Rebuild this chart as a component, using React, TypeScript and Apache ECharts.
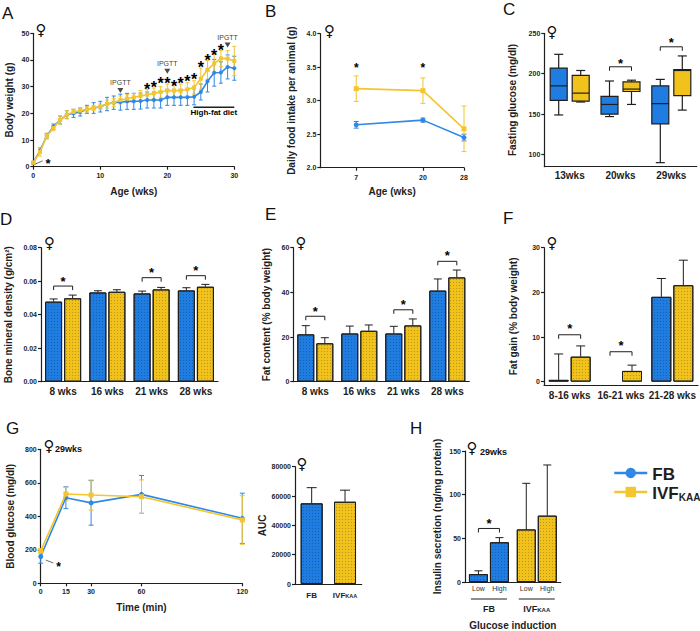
import React, { useEffect, useRef } from 'react';
import * as echarts from 'echarts';

const FONT = '"Liberation Sans", Arial, Helvetica, sans-serif';
const DARK = '#1e1e1e';
const BLUE = '#1f7de2';
const YELLOW = '#f1c21b';
const LINE_BLUE = '#2f88e6';
const LINE_YELLOW = '#f3c52f';

// ---------- Panel A: body weight ----------
const weeksA = [0, 1, 2, 3, 4, 5, 6, 7, 8, 9, 10, 11, 12, 13, 14, 15, 16, 17, 18, 19, 20, 21, 22, 23, 24, 25, 26, 27, 28, 29, 30];
const fbWeight = [1.5, 6, 11.5, 15, 17.5, 19.5, 20, 20.5, 21.5, 22, 22.5, 23.5, 24, 24.2, 24.5, 24.5, 24.6, 25, 25, 25, 26, 26, 26, 26, 26.2, 28, 32, 35.2, 35.3, 37.4, 36.9];
const fbWeightErr = [0.5, 1, 1, 1, 1.5, 1.5, 1.5, 1.5, 1.5, 2, 2, 2.5, 2.5, 3, 3, 3, 3, 3, 3, 3, 3, 3, 3, 3, 3, 3, 4, 5, 4, 4.5, 4.5];
const ivfWeight = [1.5, 5.5, 11.5, 14.5, 17.5, 19.5, 20.5, 21, 21.5, 22, 22.5, 23.5, 24, 25, 25.5, 26, 26.5, 27, 27.5, 28, 28.5, 28.5, 28.5, 29, 29.7, 33, 36.3, 38.7, 40.6, 40.5, 39.6];
const ivfWeightErr = [0.5, 1.5, 1, 1, 1.5, 1.5, 1, 1, 1, 1, 1, 1.5, 1.5, 1.5, 1.5, 1.5, 2, 2, 2, 2, 2.5, 2.5, 2.5, 2.5, 2.5, 4, 3.5, 3.5, 3, 3, 5.5];
const starWeeksA = [17, 18, 19, 20, 21, 22, 23, 24, 25, 26, 27, 28];
const starLevelsA = [30.2, 31.2, 32.5, 32.5, 31.6, 32.5, 33.5, 34, 38.7, 41, 43, 45];
const ipgttWeeks = [13, 20, 29];
const ipgttArrowLevels = [28.6, 35.8, 45.6];
const hfdRange = [23.9, 30];
const hfdLevel = 22.3;
const earlyStarA = [[0.3, 1.0], [1.4, 2.2], [1.9, 2.5]];

// ---------- Panel B: food intake ----------
const weeksB = [7, 20, 28];
const fbIntake = [2.64, 2.71, 2.45];
const fbIntakeErr = [0.05, 0.03, 0.05];
const ivfIntake = [3.18, 3.15, 2.58];
const ivfIntakeErr = [0.19, 0.19, 0.34];
const starWeeksB = [7, 20];
const starLevelsB = [3.53, 3.53];

// ---------- Panel C: fasting glucose (min, Q1, median, Q3, max) ----------
const ageCatsC = ['13wks', '20wks', '29wks'];
const fbFasting = [[149, 167, 185, 207, 224], [147, 150, 162, 172, 191], [90, 138, 163, 185, 193]];
const ivfFasting = [[165, 166, 176, 198, 204], [162, 178, 181, 190, 192], [155, 173, 204, 205, 222]];
const bracketCatsC = [1, 2];
const bracketLevelsC = [208.6, 233.3];
const starLevelsC = [216.9, 242.4];

// ---------- Panel D: bone mineral density ----------
const ageCatsD = ['8 wks', '16 wks', '21 wks', '28 wks'];
const fbBMD = [0.0478, 0.0533, 0.0527, 0.0545];
const fbBMDErr = [0.0016, 0.001, 0.0014, 0.0016];
const ivfBMD = [0.0498, 0.0537, 0.0551, 0.0567];
const ivfBMDErr = [0.0019, 0.0012, 0.0012, 0.0014];
const bracketCatsD = [0, 2, 3];
const bracketLevelsD = [0.0571, 0.0621, 0.0633];
const starLevelsD = [0.0617, 0.0667, 0.068];

// ---------- Panel E: fat content ----------
const ageCatsE = ['8 wks', '16 wks', '21 wks', '28 wks'];
const fbFat = [21.2, 21.6, 21.6, 40.8];
const fbFatErr = [3.9, 3.3, 3.2, 5.2];
const ivfFat = [17.2, 22.8, 25.2, 46.7];
const ivfFatErr = [2.5, 2.6, 2.9, 3.3];
const bracketCatsE = [0, 2, 3];
const bracketLevelsE = [29.3, 32.2, 53.9];
const starLevelsE = [32.8, 35.8, 57.8];

// ---------- Panel F: fat gain ----------
const periodCatsF = ['8-16 wks', '16-21 wks', '21-28 wks'];
const fbGain = [0.4, null, 19.0];
const fbGainErr = [5.8, null, 4.1];
const ivfGain = [5.6, 2.4, 21.6];
const ivfGainErr = [2.4, 1.3, 5.6];
const bracketCatsF = [0, 1];
const bracketLevelsF = [10.5, 6.7];
const starLevelsF = [12.5, 8.7];

// ---------- Panel G: IPGTT ----------
const timesG = [0, 15, 30, 60, 120];
const fbGlucose = [160, 511, 480, 531, 388];
const fbGlucoseErr = [40, 65, 133, 113, 150];
const ivfGlucose = [193, 533, 527, 517, 378];
const ivfGlucoseErr = [15, 40, 90, 100, 145];
const earlyStarG = [[3, 139], [7.5, 121], [9.5, 114]];

// ---------- AUC ----------
const groupsAUC = ['FB', 'IVF_KAA'];
const aucValues = [55000, 56100];
const aucErr = [10700, 7900];

// ---------- Panel H: insulin secretion ----------
const groupsH = ['FB', 'IVF_KAA'];
const lowInsulin = [9.0, 60.2];
const lowInsulinErr = [3.8, 52.8];
const highInsulin = [45.5, 76];
const highInsulinErr = [5.3, 58];
const bracketCatsH = [0];
const bracketLevelsH = [61.3];
const starLevelsH = [70.3];

const AX = { color: DARK, width: 1.2 };
const DECAL = { symbol: 'rect', symbolSize: 1, dashArrayX: [1, 2], dashArrayY: [1, 2], color: 'rgba(0,0,0,0.22)' };

const nameStyle = (size = 10) => ({ color: DARK, fontSize: size, fontWeight: 'bold', fontFamily: FONT });

function valAxis(gi: number, min: number, max: number, o: any = {}) {
  const lbl: any = { color: DARK, fontSize: 7, fontWeight: 'bold', fontFamily: FONT, margin: o.margin ?? 4 };
  const tick: any = { show: true, length: 3, lineStyle: AX };
  if (o.ticks) { lbl.customValues = o.ticks; tick.customValues = o.ticks; }
  if (o.fmt) lbl.formatter = o.fmt;
  return {
    type: 'value', gridIndex: gi, min, max, interval: o.interval,
    axisLine: { show: true, onZero: false, lineStyle: AX },
    axisTick: tick, axisLabel: lbl, splitLine: { show: false },
    name: o.name, nameLocation: 'middle', nameGap: o.gap, nameRotate: o.rotate, nameTextStyle: nameStyle(o.nameSize),
  };
}

const richSub = (big: number, small: number) => ({
  b: { fontSize: big, fontWeight: 'bold', fontFamily: FONT, color: DARK, lineHeight: big + 3, verticalAlign: 'bottom' },
  s: { fontSize: small, fontWeight: 'bold', fontFamily: FONT, color: DARK, lineHeight: small, verticalAlign: 'bottom' },
});
const subFmt = (v: string) => (v === 'IVF_KAA' ? '{b|IVF}{s|KAA}' : '{b|' + v + '}');

function catAxis(gi: number, data: string[], o: any = {}) {
  const lbl: any = { color: DARK, fontSize: o.size ?? 10, fontWeight: 'bold', fontFamily: FONT, margin: o.margin ?? 5, interval: 0 };
  if (o.rich) { lbl.formatter = subFmt; lbl.rich = o.rich; }
  return {
    type: 'category', gridIndex: gi, data,
    axisLine: { show: true, onZero: false, lineStyle: AX },
    axisTick: { show: false }, axisLabel: lbl, splitLine: { show: false },
    name: o.name, nameLocation: 'middle', nameGap: o.gap, nameTextStyle: nameStyle(o.nameSize),
  };
}

function starEl(x: number, y: number, size = 13) {
  return { type: 'text', x, y: y + size * 0.23, style: { text: '*', fill: '#000', fontSize: size, fontWeight: 'bold', fontFamily: FONT, align: 'center', verticalAlign: 'middle' } };
}
const lineEl = (x1: number, y1: number, x2: number, y2: number, color = DARK, w = 1) => ({ type: 'line', shape: { x1, y1, x2, y2 }, style: { stroke: color, lineWidth: w } });

function errSeries(gi: number, xs: any[], ms: any[], es: any[], color: string, o: any = {}) {
  const data: any[] = [];
  xs.forEach((x, i) => { if (ms[i] != null && es[i] != null) data.push([x, ms[i], es[i]]); });
  return {
    type: 'custom', xAxisIndex: gi, yAxisIndex: gi, silent: true, z: o.z ?? 3, data,
    renderItem: (_p: any, api: any) => {
      const x = api.value(0), m = api.value(1), e = api.value(2);
      const top = api.coord([x, m + e]);
      const base = api.coord([x, o.up ? m : m - e]);
      const cx = top[0] + (o.dx ?? 0);
      const c = o.cap ?? 4;
      const w = o.width ?? 1;
      const kids: any[] = [lineEl(cx, top[1], cx, base[1], color, w), lineEl(cx - c / 2, top[1], cx + c / 2, top[1], color, w)];
      if (!o.up) kids.push(lineEl(cx - c / 2, base[1], cx + c / 2, base[1], color, w));
      return { type: 'group', children: kids };
    },
  };
}

function bracketSeries(gi: number, cats: number[], levels: number[], stars: number[], half: number, drop = 4) {
  return {
    type: 'custom', xAxisIndex: gi, yAxisIndex: gi, silent: true, z: 6,
    data: cats.map((c, i) => [c, levels[i], stars[i]]),
    renderItem: (_p: any, api: any) => {
      const a = api.coord([api.value(0), api.value(1)]);
      const s = api.coord([api.value(0), api.value(2)]);
      const x1 = a[0] - half, x2 = a[0] + half;
      return {
        type: 'group', children: [
          { type: 'polyline', shape: { points: [[x1, a[1] + drop], [x1, a[1]], [x2, a[1]], [x2, a[1] + drop]] }, style: { stroke: DARK, lineWidth: 1, fill: 'none' } },
          starEl(s[0], s[1]),
        ],
      };
    },
  };
}

function starSeries(gi: number, xs: number[], ys: number[], size = 13) {
  return {
    type: 'custom', xAxisIndex: gi, yAxisIndex: gi, silent: true, z: 6,
    data: xs.map((x, i) => [x, ys[i]]),
    renderItem: (_p: any, api: any) => {
      const p = api.coord([api.value(0), api.value(1)]);
      return starEl(p[0], p[1], size);
    },
  };
}

function leaderStarSeries(gi: number, pts: number[][], size = 12) {
  return {
    type: 'custom', xAxisIndex: gi, yAxisIndex: gi, silent: true, z: 6,
    data: [[pts[0][0], pts[0][1], pts[1][0], pts[1][1], pts[2][0], pts[2][1]]],
    renderItem: (_p: any, api: any) => {
      const a = api.coord([api.value(0), api.value(1)]);
      const b = api.coord([api.value(2), api.value(3)]);
      const s = api.coord([api.value(4), api.value(5)]);
      return { type: 'group', children: [lineEl(a[0], a[1], b[0], b[1], '#444', 0.8), starEl(s[0] + 2, s[1], size)] };
    },
  };
}

function boxSeries(gi: number, data: number[][], dx: number, w: number, color: string) {
  return {
    type: 'custom', xAxisIndex: gi, yAxisIndex: gi, silent: true, z: 3,
    data: data.map((d, i) => [i, ...d]),
    renderItem: (_p: any, api: any) => {
      const cat = api.value(0);
      const y = (k: number) => api.coord([cat, api.value(k)])[1];
      const x = api.coord([cat, api.value(1)])[0] + dx;
      const yMin = y(1), yQ1 = y(2), yMed = y(3), yQ3 = y(4), yMax = y(5);
      const cap = 9;
      return {
        type: 'group', children: [
          lineEl(x, yMax, x, yQ3, DARK, 1.2), lineEl(x, yQ1, x, yMin, DARK, 1.2),
          lineEl(x - cap / 2, yMax, x + cap / 2, yMax, DARK, 1.2), lineEl(x - cap / 2, yMin, x + cap / 2, yMin, DARK, 1.2),
          { type: 'rect', shape: { x: x - w / 2, y: yQ3, width: w, height: yQ1 - yQ3 }, style: { fill: color, stroke: DARK, lineWidth: 1.2 } },
          lineEl(x - w / 2, yMed, x + w / 2, yMed, DARK, 1.2),
        ],
      };
    },
  };
}

function buildOption(): any {
  const pairs = (xs: number[], ys: number[]) => xs.map((x, i) => [x, ys[i]]);
  const barStyle = (color: string) => ({ color, borderColor: DARK, borderWidth: 1, decal: DECAL });

  const grid = [
    { left: 33.3, top: 33.3, width: 201, height: 133.4 },
    { left: 320.3, top: 33.7, width: 143.7, height: 134 },
    { left: 544.3, top: 33.3, width: 152.4, height: 133.4 },
    { left: 41, top: 247.7, width: 177, height: 134 },
    { left: 293.3, top: 247.7, width: 176, height: 134 },
    { left: 544, top: 247.7, width: 154, height: 137.3 },
    { left: 40.7, top: 449.3, width: 201.6, height: 134 },
    { left: 295, top: 466.7, width: 66.7, height: 117.3 },
    { left: 465, top: 451, width: 95.7, height: 133 },
  ];

  const xAxis = [
    valAxis(0, 0, 30, { interval: 10, name: 'Age (wks)', gap: 20, margin: 5 }),
    valAxis(1, 0, 28, { ticks: weeksB, name: 'Age (wks)', gap: 19, margin: 6 }),
    catAxis(2, ageCatsC, { margin: 4 }),
    catAxis(3, ageCatsD, { margin: 5 }),
    catAxis(4, ageCatsE, { margin: 5 }),
    catAxis(5, periodCatsF, { margin: 5 }),
    valAxis(6, 0, 120, { ticks: timesG, name: 'Time (min)', gap: 19, margin: 5 }),
    catAxis(7, groupsAUC, { margin: 4, size: 8, rich: richSub(8, 5.5) }),
    catAxis(8, groupsH, { margin: 19, size: 9, rich: richSub(9, 6), name: 'Glucose induction', gap: 38 }),
  ];

  const yAxis = [
    valAxis(0, 0, 50, { interval: 10, name: 'Body weight (g)', gap: 19, rotate: 90 }),
    valAxis(1, 2, 4, { interval: 0.5, fmt: (v: number) => v.toFixed(1), name: 'Daily food intake per animal (g)', gap: 23.5, rotate: 90, nameSize: 10 }),
    valAxis(2, 85, 250, { ticks: [100, 150, 200, 250], name: 'Fasting glucose (mg/dl)', gap: 26.5, rotate: 90 }),
    valAxis(3, 0, 0.08, { interval: 0.02, fmt: (v: number) => v.toFixed(2), name: 'Bone mineral density (g/cm²)', gap: 27.7, rotate: 90 }),
    valAxis(4, 0, 60, { interval: 20, name: 'Fat content (% body weight)', gap: 21.6, rotate: 90 }),
    valAxis(5, -0.75, 30, { ticks: [0, 10, 20, 30], name: 'Fat gain (% body weight)', gap: 25.7, rotate: 90 }),
    valAxis(6, 0, 800, { interval: 200, name: 'Blood glucose (mg/dl)', gap: 25.7, rotate: 90 }),
    valAxis(7, 0, 80000, { interval: 20000, fmt: (v: number) => String(v), name: 'AUC', gap: 25, rotate: 90 }),
    valAxis(8, 0, 150, { interval: 50, name: 'Insulin secretion (ng/mg protein)', gap: 23, rotate: 90, nameSize: 10 }),
  ];

  const series: any[] = [
    // A
    errSeries(0, weeksA, fbWeight, fbWeightErr, LINE_BLUE, { cap: 4, z: 2 }),
    errSeries(0, weeksA, ivfWeight, ivfWeightErr, LINE_YELLOW, { cap: 4, z: 2 }),
    { type: 'line', name: 'FB', xAxisIndex: 0, yAxisIndex: 0, data: pairs(weeksA, fbWeight), symbol: 'circle', symbolSize: 4, color: LINE_BLUE, lineStyle: { width: 1.6 }, z: 4 },
    { type: 'line', name: 'IVF_KAA', xAxisIndex: 0, yAxisIndex: 0, data: pairs(weeksA, ivfWeight), symbol: 'rect', symbolSize: 4, color: LINE_YELLOW, lineStyle: { width: 1.6 }, z: 5 },
    starSeries(0, starWeeksA, starLevelsA, 16),
    leaderStarSeries(0, earlyStarA, 13),
    {
      type: 'scatter', name: 'IPGTT', xAxisIndex: 0, yAxisIndex: 0, silent: true, z: 6,
      data: pairs(ipgttWeeks, ipgttArrowLevels),
      symbol: 'triangle', symbolRotate: 180, symbolSize: [6, 5], itemStyle: { color: DARK },
      label: { show: true, position: 'top', distance: 2, formatter: 'IPGTT', color: '#000', fontSize: 7, fontFamily: FONT },
    },
    {
      type: 'custom', xAxisIndex: 0, yAxisIndex: 0, silent: true, z: 6,
      data: [[hfdRange[0], hfdLevel, hfdRange[1]]],
      renderItem: (_p: any, api: any) => {
        const a = api.coord([api.value(0), api.value(1)]);
        const b = api.coord([api.value(2), api.value(1)]);
        return {
          type: 'group', children: [
            lineEl(a[0], a[1], b[0], b[1], DARK, 1.5),
            { type: 'text', x: (a[0] + b[0]) / 2, y: a[1] + 5, style: { text: 'High-fat diet', fill: '#000', fontSize: 8, fontWeight: 'bold', fontFamily: FONT, align: 'center', verticalAlign: 'middle' } },
          ],
        };
      },
    },
    // B
    errSeries(1, weeksB, fbIntake, fbIntakeErr, LINE_BLUE, { cap: 5, z: 2 }),
    errSeries(1, weeksB, ivfIntake, ivfIntakeErr, LINE_YELLOW, { cap: 5, z: 2 }),
    { type: 'line', name: 'FB-B', xAxisIndex: 1, yAxisIndex: 1, data: pairs(weeksB, fbIntake), symbol: 'circle', symbolSize: 5, color: LINE_BLUE, lineStyle: { width: 1.6 } },
    { type: 'line', name: 'IVF-B', xAxisIndex: 1, yAxisIndex: 1, data: pairs(weeksB, ivfIntake), symbol: 'rect', symbolSize: 5, color: LINE_YELLOW, lineStyle: { width: 1.6 } },
    starSeries(1, starWeeksB, starLevelsB, 12),
    // C
    boxSeries(2, fbFasting, -11, 17, BLUE),
    boxSeries(2, ivfFasting, 11, 17, YELLOW),
    bracketSeries(2, bracketCatsC, bracketLevelsC, starLevelsC, 11),
    // D
    { type: 'bar', name: 'FB-D', xAxisIndex: 3, yAxisIndex: 3, data: fbBMD, barWidth: 17, barGap: '12%', itemStyle: barStyle(BLUE) },
    { type: 'bar', name: 'IVF-D', xAxisIndex: 3, yAxisIndex: 3, data: ivfBMD, barWidth: 17, barGap: '12%', itemStyle: barStyle(YELLOW) },
    errSeries(3, [0, 1, 2, 3], fbBMD, fbBMDErr, DARK, { up: true, dx: -9.5, cap: 8, z: 1 }),
    errSeries(3, [0, 1, 2, 3], ivfBMD, ivfBMDErr, DARK, { up: true, dx: 9.5, cap: 8, z: 1 }),
    bracketSeries(3, bracketCatsD, bracketLevelsD, starLevelsD, 9.5),
    // E
    { type: 'bar', name: 'FB-E', xAxisIndex: 4, yAxisIndex: 4, data: fbFat, barWidth: 17, barGap: '12%', itemStyle: barStyle(BLUE) },
    { type: 'bar', name: 'IVF-E', xAxisIndex: 4, yAxisIndex: 4, data: ivfFat, barWidth: 17, barGap: '12%', itemStyle: barStyle(YELLOW) },
    errSeries(4, [0, 1, 2, 3], fbFat, fbFatErr, DARK, { up: true, dx: -9.5, cap: 8, z: 1 }),
    errSeries(4, [0, 1, 2, 3], ivfFat, ivfFatErr, DARK, { up: true, dx: 9.5, cap: 8, z: 1 }),
    bracketSeries(4, bracketCatsE, bracketLevelsE, starLevelsE, 9.5),
    // F
    { type: 'bar', name: 'FB-F', xAxisIndex: 5, yAxisIndex: 5, data: fbGain, barWidth: 20, barGap: '10%', itemStyle: barStyle(BLUE) },
    { type: 'bar', name: 'IVF-F', xAxisIndex: 5, yAxisIndex: 5, data: ivfGain, barWidth: 20, barGap: '10%', itemStyle: barStyle(YELLOW) },
    errSeries(5, [0, 1, 2], fbGain, fbGainErr, DARK, { up: true, dx: -11, cap: 9, z: 1 }),
    errSeries(5, [0, 1, 2], ivfGain, ivfGainErr, DARK, { up: true, dx: 11, cap: 9, z: 1 }),
    bracketSeries(5, bracketCatsF, bracketLevelsF, starLevelsF, 11),
    // G
    errSeries(6, timesG, fbGlucose, fbGlucoseErr, LINE_BLUE, { cap: 5, z: 2 }),
    errSeries(6, timesG, ivfGlucose, ivfGlucoseErr, LINE_YELLOW, { cap: 5, z: 2 }),
    { type: 'line', name: 'FB-G', xAxisIndex: 6, yAxisIndex: 6, data: pairs(timesG, fbGlucose), symbol: 'circle', symbolSize: 5, color: LINE_BLUE, lineStyle: { width: 1.6 }, z: 4 },
    { type: 'line', name: 'IVF-G', xAxisIndex: 6, yAxisIndex: 6, data: pairs(timesG, ivfGlucose), symbol: 'rect', symbolSize: 5, color: LINE_YELLOW, lineStyle: { width: 1.6 }, z: 5 },
    leaderStarSeries(6, earlyStarG, 12),
    // AUC
    {
      type: 'bar', name: 'AUC', xAxisIndex: 7, yAxisIndex: 7, barWidth: 22,
      data: aucValues.map((v, i) => ({ value: v, itemStyle: barStyle(i === 0 ? BLUE : YELLOW) })),
    },
    errSeries(7, [0, 1], aucValues, aucErr, DARK, { up: true, cap: 10, z: 1 }),
    // H
    {
      type: 'bar', name: 'Low', xAxisIndex: 8, yAxisIndex: 8, barWidth: 19, barGap: '10.5%',
      data: lowInsulin.map((v, i) => ({ value: v, itemStyle: barStyle(i === 0 ? BLUE : YELLOW) })),
      label: { show: true, position: 'bottom', distance: 3, formatter: 'Low', fontSize: 7, color: '#333', fontFamily: FONT },
    },
    {
      type: 'bar', name: 'High', xAxisIndex: 8, yAxisIndex: 8, barWidth: 19, barGap: '10.5%',
      data: highInsulin.map((v, i) => ({ value: v, itemStyle: barStyle(i === 0 ? BLUE : YELLOW) })),
      label: { show: true, position: 'bottom', distance: 3, formatter: 'High', fontSize: 7, color: '#333', fontFamily: FONT },
    },
    errSeries(8, [0, 1], lowInsulin, lowInsulinErr, DARK, { up: true, dx: -10.5, cap: 8, z: 1 }),
    errSeries(8, [0, 1], highInsulin, highInsulinErr, DARK, { up: true, dx: 10.5, cap: 8, z: 1 }),
    bracketSeries(8, bracketCatsH, bracketLevelsH, starLevelsH, 10.5),
    {
      type: 'custom', xAxisIndex: 8, yAxisIndex: 8, silent: true, z: 6,
      data: [[0, 0], [1, 0]],
      renderItem: (_p: any, api: any) => {
        const c = api.coord([api.value(0), api.value(1)]);
        return lineEl(c[0] - 18, c[1] + 17, c[0] + 18, c[1] + 17, DARK, 1);
      },
    },
  ];

  const letter = (t: string, left: number, top: number) => ({ type: 'text', left, top, style: { text: t, fontSize: 17, fill: '#111', fontFamily: FONT } });
  const female = (x: number, y: number) => ({ type: 'text', x, y, style: { text: '♀', fontSize: 15, fontWeight: 'bold', fill: '#111', fontFamily: 'DejaVu Sans', align: 'center', verticalAlign: 'middle' } });
  const small = (t: string, x: number, y: number) => ({ type: 'text', x, y, style: { text: t, fontSize: 9, fontWeight: 'bold', fill: '#111', fontFamily: FONT, align: 'left', verticalAlign: 'middle' } });

  return {
    animation: false,
    backgroundColor: '#ffffff',
    grid, xAxis, yAxis, series,
    legend: {
      left: 608, top: 461, orient: 'vertical', itemWidth: 33, itemHeight: 13, itemGap: 2, selectedMode: false,
      data: ['FB', 'IVF_KAA'],
      lineStyle: { width: 2.5 },
      formatter: (n: string) => subFmt(n),
      textStyle: { rich: richSub(17, 10) },
    },
    graphic: [
      letter('A', 2, 5), letter('B', 265, 3), letter('C', 503, 1),
      letter('D', 0, 211), letter('E', 265, 206), letter('F', 503, 210),
      letter('G', 6, 420), letter('H', 410, 420),
      female(41, 30), female(329.5, 30.5), female(552, 32),
      female(49.5, 243), female(301, 243), female(552, 243),
      female(49, 446), female(302, 464), female(472, 448),
      small('29wks', 55, 449), small('29wks', 480, 452),
    ],
  };
}

export default function App() {
  const ref = useRef<HTMLDivElement>(null);
  useEffect(() => {
    if (!ref.current) return;
    const chart = echarts.init(ref.current, null, { renderer: 'svg' });
    chart.setOption(buildOption());
    return () => chart.dispose();
  }, []);
  return <div ref={ref} style={{ position: 'absolute', left: 0, top: 0, width: 700, height: 631, background: '#fff' }} />;
}
